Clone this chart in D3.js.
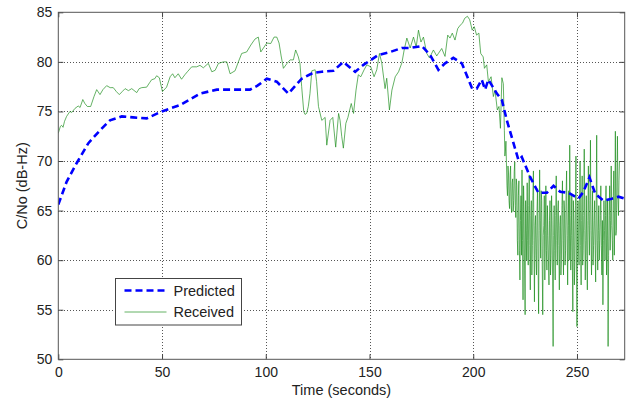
<!DOCTYPE html>
<html>
<head>
<meta charset="utf-8">
<script src="https://cdn.jsdelivr.net/npm/d3@7"></script>
<style>
  body { margin: 0; background: #fff; }
  svg { display: block; font-family: Arial, 'Liberation Sans', sans-serif; }
  .grid line { stroke: #555; stroke-dasharray: 1,2; shape-rendering: crispEdges; }
  .tick-label { font-size: 14px; fill: #222; }
</style>
</head>
<body>
<div id="chart"></div>
<script>
const xTicks = [0, 50, 100, 150, 200, 250];
const yTicks = [50, 55, 60, 65, 70, 75, 80, 85];

// predicted C/No (blue dashed)
const predTime = [0, 4, 8.9, 14.5, 20.1, 24.9, 30.6, 36, 42.6, 49.9, 58.7, 68.3, 76.4, 84, 92.4, 96,
  100.5, 105.3, 110.9, 117.3, 122.9, 127, 132.6, 137.4, 143.1, 147.1, 154.3, 160, 165.6, 169.6,
  175.2, 179.2, 183.2, 186.4, 190.4, 194.5, 199.3, 201.7, 204.1, 205.7, 207.3, 211.4, 213.8,
  216.2, 219.4, 221.8, 223.4, 227.4, 231.4, 235.5, 238.7, 241.9, 245.9, 250.7, 253.1, 256,
  258.8, 262.8, 266.8, 270, 273];
const predValue = [65.6, 67.9, 69.8, 71.8, 73.1, 74.1, 74.5, 74.4, 74.3, 75.0, 75.65, 76.8, 77.2, 77.2, 77.2, 77.6,
  78.3, 78.0, 76.8, 78.3, 78.9, 79.0, 79.1, 80.0, 79.0, 79.7, 80.7, 81.0, 81.4, 81.4,
  81.6, 80.7, 79.2, 79.85, 80.4, 79.85, 77.4, 77.3, 78.2, 77.2, 78.2, 76.8, 76.15,
  74.1, 71.8, 70.1, 70.4, 68.4, 66.8, 66.8, 67.5, 66.9, 66.8, 66.2, 66.9, 68.35,
  66.7, 66.0, 66.2, 66.4, 66.2];

// received C/No (green), first part read point by point
const recvTime = [0, 1, 1.6, 2.3, 3, 4, 5.6, 6.5, 8, 9.6, 10.5, 11.8, 12.8, 14, 15.6, 17.2, 18.5, 20.1,
  21.5, 23.3, 25, 26.5, 28, 29.4, 30.8, 32.2, 33.8, 35.4, 37.8, 39, 40.2, 42.6, 44, 45, 46.5,
  47.4, 48.7, 50.2, 52.2, 53.9, 55.1, 56.2, 57.8, 59.4, 61, 62.2, 64.3, 66.7, 68.3, 69.9, 72.3,
  74, 75.6, 77.2, 79.6, 81.2, 82.8, 85.2, 86.8, 88.4, 90.8, 92.8, 94.8, 96.4, 97.6, 99.2, 100.5,
  102.4, 104, 105.3, 106.4, 107.4, 108.5, 110.1, 111.7, 113.3, 114.4, 115.7, 116.5, 117.3, 118.3,
  118.9, 119.7, 120.5, 121.3, 122.2, 123.8, 124.5, 125.4, 127, 128.6, 129.4, 131, 132.3, 133.7,
  135.1, 135.8, 136.6, 137.4, 138.6, 139.6, 141.2, 142.3, 143.5, 144.6, 145.8, 147.4, 148.7,
  150.6, 152.2, 153.5, 154.8, 155.9, 157.5, 158.3, 159.6, 160.8, 162.4, 164, 165.6, 166.7, 168,
  169.6, 171.2, 172.5, 173.6, 174.8, 176, 177.6, 178.9, 180.8, 182.4, 183.2, 184.8, 186.4, 187.7,
  188.8, 189.9, 191.2, 192.5, 193.7, 194.8, 195.9, 197.2, 198.3, 199.5, 200.5, 201.6, 202.7,
  203.6, 204.8, 205.4, 206.5, 207.3, 208.6, 209.7, 210.5, 211.6, 212.4, 213.1, 213.8, 214.5];
const recvValue = [72.8, 73.5, 73.6, 73.4, 74.0, 74.5, 75.0, 74.9, 75.3, 75.55, 75.4, 76.2, 75.8, 75.5, 75.5, 76.5, 77.2, 76.7,
  77.2, 77.6, 77.4, 77.4, 77.0, 76.7, 77.0, 77.3, 77.1, 77.3, 76.9, 77.3, 77.4, 77.45, 77.9, 78.2, 78.3,
  78.6, 78.4, 77.0, 77.45, 78.5, 78.8, 78.4, 78.8, 78.25, 78.7, 79.0, 79.5, 79.5, 79.65, 79.4, 79.85,
  79.0, 79.15, 79.85, 80.0, 80.0, 78.8, 79.1, 80.0, 80.85, 81.0, 81.7, 82.3, 82.5, 81.0, 81.5, 81.9,
  81.85, 82.5, 82.5, 81.9, 80.6, 79.35, 79.8, 80.2, 80.2, 81.2, 80.5, 79.8, 77.5, 75.0,
  74.7, 74.8, 75.5, 76.8, 79.1, 79.2, 78.0, 75.5, 74.1, 74.4, 71.6, 74.1, 74.4, 71.4,
  74.8, 74.1, 72.5, 71.3, 73.8, 74.4, 75.8, 74.8, 77.15, 78.7, 78.5, 79.2, 79.7,
  79.5, 78.5, 79.2, 80.85, 79.9, 77.3, 78.35, 75.15, 77.15, 78.5, 79.0, 79.9, 81.2, 82.4,
  81.4, 82.5, 81.5, 83.2, 82.0, 82.5, 80.85, 80.4, 81.2, 80.6, 80.85, 81.35, 80.55, 82.7,
  82.4, 82.9, 82.2, 83.35, 83.7, 83.9, 84.4, 84.6, 84.25, 83.2, 83.55, 82.7, 82.9,
  80.85, 80.5, 79.35, 79.7, 78.0, 78.5, 76.5, 77.15, 75.15, 75.5, 73.3, 78.4, 77.8];

// received C/No in the noisy tail, one reading every 0.25 s from 215 s
const noisyStart = 215;
const noisyStep = 0.25;
const noisyValue = [
  73.1, 70.5, 71.0, 72.0, 69.8, 67.5, 66.5, 69.5, 68.8, 66.0, 65.2, 68.5, 69.5, 65.5, 64.8, 67.8,
  68.2, 64.9, 66.0, 68.9, 69.9, 65.5, 64.3, 68.2, 67.5, 62.0, 60.5, 66.5, 68.0, 61.0, 58.0, 64.0,
  66.5, 60.5, 69.1, 62.0, 56.0, 67.5, 65.0, 59.0, 54.5, 66.0, 63.0, 60.0, 67.8, 62.0, 59.5, 65.5,
  68.6, 61.5, 57.0, 64.5, 66.0, 58.5, 61.5, 66.5, 69.0, 62.0, 55.8, 63.5, 64.5, 60.5, 58.5, 65.0,
  67.2, 60.0, 54.6, 63.0, 69.1, 64.0, 60.2, 67.0, 66.0, 59.5, 54.5, 62.5, 63.5, 66.5, 58.0, 63.0,
  67.5, 61.0, 59.0, 65.5, 62.5, 60.0, 57.5, 64.0, 66.0, 58.5, 60.5, 66.5, 64.0, 58.0, 51.3, 62.5,
  65.5, 61.0, 58.0, 64.5, 68.5, 62.0, 59.5, 65.0, 66.0, 61.5, 57.0, 63.5, 64.5, 58.5, 60.0, 65.5,
  68.0, 62.0, 58.5, 66.0, 65.0, 59.5, 61.0, 66.5, 69.0, 62.5, 57.5, 63.5, 67.0, 60.0, 71.6, 64.5,
  59.0, 62.5, 66.5, 60.0, 54.8, 66.0, 64.0, 57.5, 60.0, 65.5, 70.5, 60.5, 53.3, 62.5, 66.0, 61.0,
  59.5, 65.0, 70.0, 61.5, 57.5, 64.0, 68.5, 59.5, 61.0, 64.5, 71.2, 63.0, 58.0, 62.0, 66.5, 60.5,
  57.0, 64.0, 69.5, 63.5, 60.5, 66.0, 72.1, 63.0, 58.5, 62.5, 67.0, 59.5, 61.5, 64.0, 66.0, 61.5,
  57.8, 65.0, 72.6, 62.0, 59.0, 63.0, 65.5, 60.0, 62.0, 64.5, 67.5, 61.5, 58.5, 64.0, 55.5, 62.0,
  66.0, 63.0, 60.0, 64.5, 67.5, 58.5, 62.5, 66.0, 51.3, 60.5, 64.5, 67.5, 61.0, 64.0, 69.5, 63.5,
  62.0, 60.0, 66.5, 69.0, 60.5, 65.0, 73.0, 62.5, 63.0, 68.5, 72.5, 66.0, 64.5, 68.0, 70.0];

const width = 631, height = 400;
const plot = { left: 58.3, top: 12.3, right: 624.7, bottom: 359.3 };

let recvPoints = recvTime.map((t, i) => [t, recvValue[i]])
  .concat(noisyValue.map((v, i) => [noisyStart + i * noisyStep, v]));
let predPoints = predTime.map((t, i) => [t, predValue[i]]);

let svg = d3.select('#chart').append('svg')
  .attr('width', width)
  .attr('height', height);

let x = d3.scaleLinear().domain([0, 273]).range([plot.left, plot.right]);
let y = d3.scaleLinear().domain([50, 85]).range([plot.bottom, plot.top]);

svg.append('rect')
  .attr('x', plot.left).attr('y', plot.top)
  .attr('width', plot.right - plot.left)
  .attr('height', plot.bottom - plot.top)
  .attr('fill', '#fff');

// dotted grid
let grid = svg.append('g').attr('class', 'grid');
grid.selectAll('.gx')
  .data(xTicks.filter(d => d > 0))
  .enter().append('line')
  .attr('x1', d => Math.round(x(d)) + 0.5).attr('x2', d => Math.round(x(d)) + 0.5)
  .attr('y1', plot.top).attr('y2', plot.bottom);
grid.selectAll('.gy')
  .data(yTicks.filter(d => d > 50 && d < 85))
  .enter().append('line')
  .attr('y1', d => Math.round(y(d)) + 0.5).attr('y2', d => Math.round(y(d)) + 0.5)
  .attr('x1', plot.left).attr('x2', plot.right);

svg.append('clipPath').attr('id', 'clip')
  .append('rect')
  .attr('x', plot.left).attr('y', plot.top)
  .attr('width', plot.right - plot.left)
  .attr('height', plot.bottom - plot.top);

let line = d3.line()
  .x(d => x(d[0]))
  .y(d => y(d[1]));

svg.append('path')
  .datum(recvPoints)
  .attr('clip-path', 'url(#clip)')
  .attr('d', line)
  .attr('fill', 'none')
  .attr('stroke', '#1a8c1a')
  .attr('stroke-opacity', 0.75)
  .attr('stroke-width', 0.9);

svg.append('path')
  .datum(predPoints)
  .attr('clip-path', 'url(#clip)')
  .attr('d', line)
  .attr('fill', 'none')
  .attr('stroke', '#0000ff')
  .attr('stroke-width', 2.6)
  .attr('stroke-dasharray', '7,4');

// axes with inward ticks, box drawn by hand
let xAxis = d3.axisBottom(x).tickValues(xTicks).tickSizeInner(-5).tickSizeOuter(0).tickPadding(7.5);
let yAxis = d3.axisLeft(y).tickValues(yTicks).tickSizeInner(-5).tickSizeOuter(0).tickPadding(6);

let gx = svg.append('g')
  .attr('transform', `translate(0, ${plot.bottom})`)
  .call(xAxis);
let gy = svg.append('g')
  .attr('transform', `translate(${plot.left}, 0)`)
  .call(yAxis);
svg.append('g')
  .attr('transform', `translate(0, ${plot.top})`)
  .call(d3.axisTop(x).tickValues(xTicks).tickSizeInner(-5).tickSizeOuter(0).tickFormat(''));
svg.append('g')
  .attr('transform', `translate(${plot.right}, 0)`)
  .call(d3.axisRight(y).tickValues(yTicks).tickSizeInner(-5).tickSizeOuter(0).tickFormat(''));

svg.selectAll('.domain').remove();
svg.selectAll('.tick line').attr('stroke', '#444');
[gx, gy].forEach(g => {
  g.attr('font-family', null).attr('font-size', null);
  g.selectAll('text').attr('class', 'tick-label');
});

svg.append('rect')
  .attr('x', plot.left).attr('y', plot.top)
  .attr('width', plot.right - plot.left)
  .attr('height', plot.bottom - plot.top)
  .attr('fill', 'none')
  .attr('stroke', '#555')
  .attr('stroke-width', 1);

svg.append('text')
  .attr('x', (plot.left + plot.right) / 2)
  .attr('y', 394.5)
  .attr('text-anchor', 'middle')
  .style('font-size', '14.5px')
  .style('fill', '#222')
  .text('Time (seconds)');

svg.append('text')
  .attr('transform', `translate(27, ${(plot.top + plot.bottom) / 2}) rotate(-90)`)
  .attr('text-anchor', 'middle')
  .style('font-size', '14.5px')
  .style('fill', '#222')
  .text('C/No (dB-Hz)');

// legend
let legend = svg.append('g').attr('transform', 'translate(115.5, 278.5)');
legend.append('rect')
  .attr('width', 126).attr('height', 46.5)
  .attr('fill', '#fff')
  .attr('stroke', '#444');

let legendItems = [
  { name: 'Predicted', color: '#0000ff', width: 2.6, dash: '7,4', opacity: 1 },
  { name: 'Received', color: '#1a8c1a', width: 0.9, dash: null, opacity: 0.75 }
];
let item = legend.selectAll('.item')
  .data(legendItems)
  .enter().append('g')
  .attr('transform', (d, i) => `translate(0, ${12 + i * 21.5})`);
item.append('line')
  .attr('x1', 9).attr('x2', 51)
  .attr('stroke', d => d.color)
  .attr('stroke-width', d => d.width)
  .attr('stroke-opacity', d => d.opacity)
  .attr('stroke-dasharray', d => d.dash);
item.append('text')
  .attr('x', 58)
  .attr('y', 5)
  .style('font-size', '14.5px')
  .style('fill', '#222')
  .text(d => d.name);
</script>
</body>
</html>
